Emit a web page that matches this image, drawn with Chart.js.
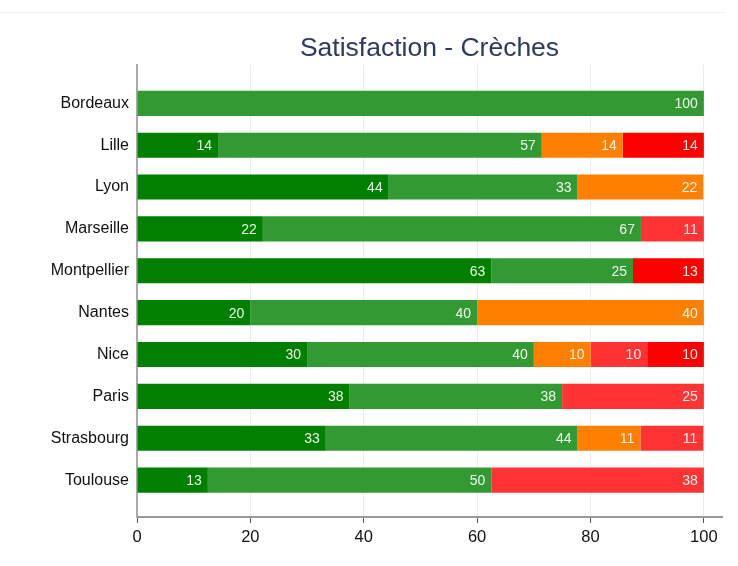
<!DOCTYPE html>
<html>
<head>
<meta charset="utf-8">
<script src="https://cdn.jsdelivr.net/npm/chart.js@4/dist/chart.umd.min.js"></script>
<style>
    body { margin: 0; background: #fff; }
    #wrap { position: relative; width: 738px; height: 566px; }
    #topLine { position: absolute; left: 0; top: 12px; width: 726px; height: 1px; background: #eef1f4; }
    canvas { position: absolute; left: 0; top: 0; }
</style>
</head>
<body>
<div id="wrap">
    <div id="topLine"></div>
    <canvas id="satisfactionChart" width="738" height="566"></canvas>
</div>
<script>
// Chart data
const cities = ['Bordeaux', 'Lille', 'Lyon', 'Marseille', 'Montpellier', 'Nantes', 'Nice', 'Paris', 'Strasbourg', 'Toulouse'];
const tresSatisfait = [0, 14.3, 44.4, 22.2, 62.5, 20, 30, 37.5, 33.3, 12.5];
const satisfait = [100, 57.1, 33.3, 66.7, 25, 40, 40, 37.5, 44.4, 50];
const peuSatisfait = [0, 14.3, 22.2, 0, 0, 40, 10, 0, 11.1, 0];
const pasSatisfait = [0, 0, 0, 11.1, 0, 0, 10, 25, 11.1, 37.5];
const pasDuToutSatisfait = [0, 14.3, 0, 0, 12.5, 0, 10, 0, 0, 0];
const xTicks = [0, 20, 40, 60, 80, 100];

const seriesList = [
    { label: 'Très satisfait', values: tresSatisfait, color: '#007f00' },
    { label: 'Satisfait', values: satisfait, color: '#339933' },
    { label: 'Peu satisfait', values: peuSatisfait, color: '#ff8000' },
    { label: 'Pas satisfait', values: pasSatisfait, color: '#ff3333' },
    { label: 'Pas du tout satisfait', values: pasDuToutSatisfait, color: '#ff0000' }
];

const FONT = "'Liberation Sans', Arial, sans-serif";

// Value labels inside bars
const barLabels = {
    id: 'barLabels',
    afterDatasetsDraw(chart) {
        const ctx = chart.ctx;
        ctx.save();
        ctx.font = '14px ' + FONT;
        ctx.fillStyle = 'rgba(255,255,255,0.92)';
        ctx.textAlign = 'right';
        ctx.textBaseline = 'middle';
        chart.data.datasets.forEach((ds, di) => {
            const meta = chart.getDatasetMeta(di);
            meta.data.forEach((bar, i) => {
                const v = ds.data[i].x;
                if (!v) return;
                ctx.fillText(String(Math.round(v)), bar.x - 6, bar.y + 1);
            });
        });
        ctx.restore();
    }
};

const ctx = document.getElementById('satisfactionChart').getContext('2d');
new Chart(ctx, {
    type: 'bar',
    data: {
        datasets: seriesList.map(s => ({
            label: s.label,
            data: s.values.map((v, i) => ({ x: v, y: i })),
            backgroundColor: s.color,
            borderWidth: 0,
            stack: 'all',
            categoryPercentage: 1,
            barPercentage: 0.6
        }))
    },
    options: {
        indexAxis: 'y',
        responsive: false,
        animation: false,
        devicePixelRatio: 1,
        layout: { padding: { left: 0, right: 16, top: 0, bottom: 0 } },
        scales: {
            x: {
                type: 'linear',
                stacked: true,
                min: 0,
                max: 103.2,
                afterFit: (scale) => { scale.height = 49; },
                afterBuildTicks: (scale) => { scale.ticks = xTicks.map(v => ({ value: v })); },
                grid: {
                    color: '#e8edf1',
                    tickColor: '#555',
                    tickLength: 6
                },
                border: { display: true, color: '#999', width: 2 },
                ticks: {
                    color: '#111',
                    padding: 5,
                    font: { family: FONT, size: 16.5 }
                }
            },
            y: {
                type: 'linear',
                stacked: true,
                reverse: true,
                offset: false,
                min: -0.92,
                max: 9.88,
                afterFit: (scale) => { scale.width = 137; },
                afterBuildTicks: (scale) => { scale.ticks = cities.map((c, i) => ({ value: i })); },
                grid: { display: false, drawTicks: false, offset: false },
                border: { display: true, color: '#aaa', width: 2 },
                ticks: {
                    color: '#111',
                    padding: 8,
                    font: { family: FONT, size: 16 },
                    callback: (v) => cities[v]
                }
            }
        },
        plugins: {
            legend: { display: false },
            tooltip: { enabled: false },
            title: {
                display: true,
                text: 'Satisfaction - Crèches',
                fullSize: false,
                color: '#2d3a5e',
                font: { family: FONT, size: 26.5, weight: 'normal' },
                padding: { top: 33, bottom: 0 }
            }
        }
    },
    plugins: [barLabels]
});
</script>
</body>
</html>
